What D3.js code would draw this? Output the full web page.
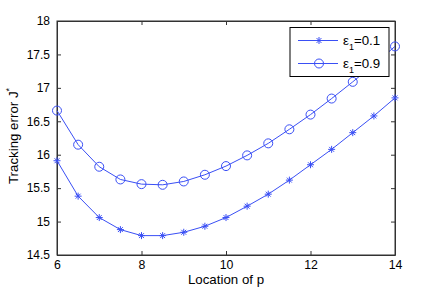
<!DOCTYPE html>
<html>
<head>
<meta charset="utf-8">
<script src="https://cdn.jsdelivr.net/npm/d3@7"></script>
<style>
  body { margin: 0; background: #fff; }
  text { font-family: "Liberation Sans", Arial, sans-serif; }
</style>
</head>
<body>
<div id="chart"></div>
<script>
const locations = [6, 6.5, 7, 7.5, 8, 8.5, 9, 9.5, 10, 10.5, 11, 11.5, 12, 12.5, 13, 13.5, 14];
const eps01 = [15.91, 15.38, 15.06, 14.88, 14.79, 14.79, 14.84, 14.93, 15.06, 15.23, 15.41, 15.62, 15.85, 16.08, 16.33, 16.58, 16.85];
const eps09 = [16.66, 16.15, 15.82, 15.63, 15.56, 15.55, 15.60, 15.70, 15.83, 15.99, 16.17, 16.38, 16.60, 16.84, 17.09, 17.35, 17.62];
const xTicks = [6, 8, 10, 12, 14];
const yTicks = [14.5, 15, 15.5, 16, 16.5, 17, 17.5, 18];

const W = 436, H = 289;
const margin = { top: 21, right: 41, bottom: 34, left: 57 };
const blue = "#3a4ff5";

const x = d3.scaleLinear().domain([6, 14]).range([margin.left, W - margin.right]);
const y = d3.scaleLinear().domain([14.5, 18]).range([H - margin.bottom, margin.top]);

const svg = d3.select("#chart").append("svg")
  .attr("width", W).attr("height", H);

// axes, MATLAB style: ticks inward on all four sides
const tick = 4;
svg.append("g")
  .attr("transform", `translate(0,${H - margin.bottom})`)
  .call(d3.axisBottom(x).tickValues(xTicks).tickSizeInner(-tick).tickSizeOuter(0).tickPadding(5))
  .call(g => g.selectAll("text").attr("font-size", 12.3).attr("fill", "#000"));
svg.append("g")
  .attr("transform", `translate(0,${margin.top})`)
  .call(d3.axisTop(x).tickValues(xTicks).tickSizeInner(-tick).tickSizeOuter(0).tickFormat(""));
svg.append("g")
  .attr("transform", `translate(${margin.left},0)`)
  .call(d3.axisLeft(y).tickValues(yTicks).tickSizeInner(-tick).tickSizeOuter(0).tickPadding(7).tickFormat(d3.format("")))
  .call(g => g.selectAll("text").attr("font-size", 12).attr("fill", "#000"));
svg.append("g")
  .attr("transform", `translate(${W - margin.right},0)`)
  .call(d3.axisRight(y).tickValues(yTicks).tickSizeInner(-tick).tickSizeOuter(0).tickFormat(""));
svg.selectAll(".domain, .tick line").attr("stroke", "#333");

svg.append("rect")
  .attr("x", margin.left).attr("y", margin.top)
  .attr("width", W - margin.left - margin.right)
  .attr("height", H - margin.top - margin.bottom)
  .attr("fill", "none").attr("stroke", "#333");

// labels
svg.append("text")
  .attr("x", (margin.left + W - margin.right) / 2).attr("y", 284)
  .attr("text-anchor", "middle").attr("font-size", 13.3)
  .text("Location of p");
const yl = svg.append("text")
  .attr("transform", `translate(18,${(margin.top + H - margin.bottom) / 2 - 2}) rotate(-90)`)
  .attr("text-anchor", "middle").attr("font-size", 13.3);
yl.append("tspan").text("Tracking error J");
yl.append("tspan").attr("dy", -6).attr("font-size", 9).text("*");

const line = d3.line().x(d => x(d[0])).y(d => y(d[1]));

function star(g, s) {
  g.append("path")
    .attr("d", `M${-s},0H${s}M0,${-s}V${s}M${-s * 0.7},${-s * 0.7}L${s * 0.7},${s * 0.7}M${-s * 0.7},${s * 0.7}L${s * 0.7},${-s * 0.7}`)
    .attr("stroke", blue).attr("stroke-width", 1).attr("fill", "none");
}
function circ(g, r) {
  g.append("circle").attr("r", r).attr("fill", "none").attr("stroke", blue).attr("stroke-width", 1);
}

const series = [
  { name: "0.1", values: eps01, marker: g => star(g, 3.5) },
  { name: "0.9", values: eps09, marker: g => circ(g, 4.5) }
];

series.forEach(s => {
  const pts = locations.map((l, i) => [l, s.values[i]]);
  svg.append("path").datum(pts).attr("d", line)
    .attr("fill", "none").attr("stroke", blue).attr("stroke-width", 1);
  svg.selectAll(null).data(pts).enter().append("g")
    .attr("transform", d => `translate(${x(d[0])},${y(d[1])})`)
    .each(function() { s.marker(d3.select(this)); });
});

// legend
const lg = svg.append("g").attr("transform", "translate(290,27.5)");
lg.append("rect").attr("width", 99).attr("height", 49)
  .attr("fill", "#fff").attr("stroke", "#000");
series.forEach((s, i) => {
  const row = lg.append("g").attr("transform", `translate(0,${13 + i * 23})`);
  row.append("line").attr("x1", 8).attr("x2", 48)
    .attr("stroke", blue).attr("stroke-width", 1);
  s.marker(row.append("g").attr("transform", "translate(29,0)"));
  const t = row.append("text").attr("x", 53).attr("y", 4).attr("font-size", 13.3);
  t.append("tspan").text("ε");
  t.append("tspan").attr("dy", 5).attr("font-size", 9).text("1");
  t.append("tspan").attr("dy", -5).text("=" + s.name);
});
</script>
</body>
</html>
